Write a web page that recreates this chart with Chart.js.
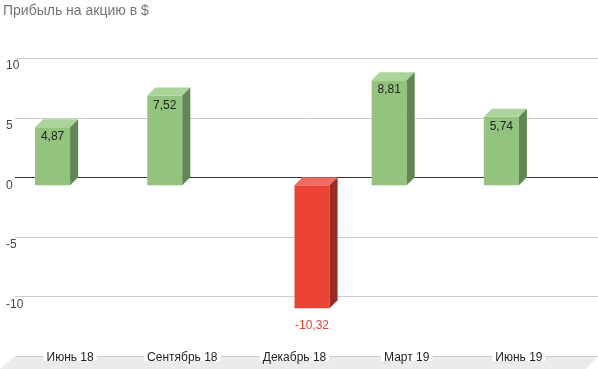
<!DOCTYPE html>
<html>
<head>
<meta charset="utf-8">
<script src="https://cdn.jsdelivr.net/npm/chart.js@4.4.1/dist/chart.umd.min.js"></script>
<style>
  html, body { margin: 0; padding: 0; background: #fff; }
  #wrap { width: 598px; height: 369px; }
</style>
</head>
<body>
<div id="wrap"><canvas id="c" width="598" height="369"></canvas></div>
<script>
const chartTitle = 'Прибыль на акцию в $';
const categories = ['Июнь 18', 'Сентябрь 18', 'Декабрь 18', 'Март 19', 'Июнь 19'];
const profitValues = [4.87, 7.52, null, 8.81, 5.74];
const lossValues = [null, null, -10.32, null, null];
const yTickValues = [-15, -10, -5, 0, 5, 10];

const FONT = 'Arial, "Liberation Sans", sans-serif';
const DEPTH = 8;
const faces = {
  profit: { front: '#93c47d', top: '#abd49a', side: '#5f8752', label: '#222222' },
  loss:   { front: '#ea4335', top: '#ef6a5f', side: '#9e2b23', label: '#ea4335' }
};

function fmt(v) { return v.toFixed(2).replace('.', ','); }

const chart3d = {
  id: 'chart3d',
  beforeDatasetsDraw(chart) {
    const ctx = chart.ctx;
    const ys = chart.scales.y, xs = chart.scales.x;
    const area = chart.chartArea;
    const W = chart.width, H = chart.height;
    ctx.save();
    // floor
    const fy = Math.round(ys.getPixelForValue(-15));
    ctx.fillStyle = '#ebebeb';
    ctx.beginPath();
    ctx.moveTo(area.left + 1, fy);
    ctx.lineTo(W, fy);
    ctx.lineTo(W - 12, H);
    ctx.lineTo(0, H);
    ctx.closePath();
    ctx.fill();
    // grid lines
    yTickValues.forEach(v => {
      const y = Math.round(ys.getPixelForValue(v)) + 0.5;
      ctx.strokeStyle = v === 0 ? '#333333' : '#cccccc';
      ctx.lineWidth = 1;
      ctx.beginPath();
      ctx.moveTo(area.left + 1, y);
      ctx.lineTo(W, y);
      ctx.stroke();
    });
    // y tick labels (front plane)
    ctx.font = '12px ' + FONT;
    ctx.fillStyle = '#444444';
    ctx.textAlign = 'left';
    ctx.textBaseline = 'middle';
    yTickValues.forEach(v => {
      if (v === -15) return;
      ctx.fillText(String(v), 6, ys.getPixelForValue(v) + DEPTH);
    });
    // x labels with white backdrop
    ctx.font = '12px ' + FONT;
    ctx.textAlign = 'center';
    categories.forEach((c, i) => {
      const x = xs.getPixelForValue(i);
      const w = ctx.measureText(c).width;
      ctx.fillStyle = '#ffffff';
      ctx.fillRect(x - w / 2 - 3, fy - 4, w + 6, 9);
      ctx.fillStyle = '#222222';
      ctx.fillText(c, x, fy + 2);
    });
    // title
    ctx.font = '14px ' + FONT;
    ctx.fillStyle = '#757575';
    ctx.textAlign = 'left';
    ctx.textBaseline = 'alphabetic';
    ctx.fillText(chartTitle, 3, 15);
    ctx.restore();
    // shift front faces
    ctx.save();
    ctx.translate(0, DEPTH);
  },
  afterDatasetsDraw(chart) {
    const ctx = chart.ctx;
    ctx.restore();
    ctx.save();
    chart.data.datasets.forEach((ds, di) => {
      const meta = chart.getDatasetMeta(di);
      const f = faces[ds.kind];
      meta.data.forEach((bar, i) => {
        const v = ds.data[i];
        if (v === null || v === undefined) return;
        const p = bar.getProps(['x', 'y', 'base', 'width'], true);
        const l = p.x - p.width / 2, r = p.x + p.width / 2;
        const t = Math.min(p.y, p.base) + DEPTH, b = Math.max(p.y, p.base) + DEPTH;
        ctx.fillStyle = f.top;
        ctx.beginPath();
        ctx.moveTo(l, t); ctx.lineTo(l + DEPTH, t - DEPTH);
        ctx.lineTo(r + DEPTH, t - DEPTH); ctx.lineTo(r, t);
        ctx.closePath(); ctx.fill();
        ctx.fillStyle = f.side;
        ctx.beginPath();
        ctx.moveTo(r, t); ctx.lineTo(r + DEPTH, t - DEPTH);
        ctx.lineTo(r + DEPTH, b - DEPTH); ctx.lineTo(r, b);
        ctx.closePath(); ctx.fill();
        ctx.font = '12px ' + FONT;
        ctx.textAlign = 'center';
        ctx.textBaseline = 'middle';
        ctx.fillStyle = f.label;
        if (v >= 0) ctx.fillText(fmt(v), p.x, t + 10);
        else ctx.fillText(fmt(v), p.x, b + 17);
      });
    });
    ctx.restore();
  }
};

new Chart(document.getElementById('c'), {
  type: 'bar',
  data: {
    labels: categories,
    datasets: [
      { kind: 'profit', data: profitValues, backgroundColor: faces.profit.front, borderWidth: 0,
        categoryPercentage: 0.625, barPercentage: 1.0 },
      { kind: 'loss', data: lossValues, backgroundColor: faces.loss.front, borderWidth: 0,
        categoryPercentage: 0.625, barPercentage: 1.0 }
    ]
  },
  options: {
    responsive: false,
    animation: false,
    devicePixelRatio: 1,
    layout: { padding: { left: 14, right: 23, top: 58, bottom: 13 } },
    plugins: { legend: { display: false }, tooltip: { enabled: false }, title: { display: false } },
    scales: {
      x: { display: false, offset: true },
      y: { display: false, min: -15, max: 10, ticks: { stepSize: 5 } }
    }
  },
  plugins: [chart3d]
});
</script>
</body>
</html>
